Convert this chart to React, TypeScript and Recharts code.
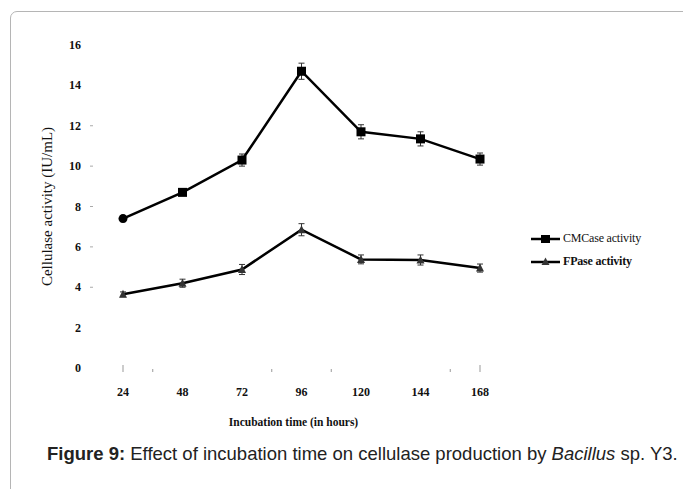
import React from 'react';
import { LineChart, Line, XAxis, YAxis, ErrorBar, Legend } from 'recharts';

// Incubation times (hours) and measured activities (IU/mL) with their error
const hours = [24, 48, 72, 96, 120, 144, 168];
const cmcaseActivity = [7.4, 8.7, 10.3, 14.7, 11.7, 11.35, 10.35];
const cmcaseError = [0.15, 0.15, 0.3, 0.4, 0.35, 0.35, 0.3];
const fpaseActivity = [3.65, 4.2, 4.88, 6.85, 5.38, 5.35, 4.95];
const fpaseError = [0.12, 0.2, 0.25, 0.3, 0.22, 0.25, 0.2];

// Axis ticks
const yTicks = [0, 2, 4, 6, 8, 10, 12, 14, 16];
const yDashTicks = [4, 6, 8, 10, 12];
const edgeMarks = [24, 168];
const minorMarks = [36, 84, 108, 156];

const seriesNames = { cmcase: 'CMCase activity', fpase: 'FPase activity' };

const data = hours.map((h, i) => ({
  hour: h,
  cmcase: cmcaseActivity[i],
  cmcaseErr: cmcaseError[i],
  fpase: fpaseActivity[i],
  fpaseErr: fpaseError[i],
}));

const xTicks = [...hours, ...minorMarks].sort((a, b) => a - b);

const serif = '"Liberation Serif", "Times New Roman", serif';
const sans = '"Liberation Sans", Arial, sans-serif';

const YTick = (props: any) => {
  const { x, y, payload } = props;
  return (
    <g>
      <text x={x} y={y} dy={4} textAnchor="end" fontFamily={serif} fontWeight={700} fontSize={12} fill="#111">
        {payload.value}
      </text>
      {yDashTicks.includes(payload.value) && (
        <line x1={x + 9} x2={x + 12} y1={y} y2={y} stroke="#aaa" strokeWidth={1} />
      )}
    </g>
  );
};

const XTick = (props: any) => {
  const { x, y, payload } = props;
  const v = payload.value;
  const isEdge = edgeMarks.includes(v);
  const isMinor = minorMarks.includes(v);
  return (
    <g>
      {(isEdge || isMinor) && (
        <line x1={x} x2={x} y1={y - (isEdge ? 23 : 19)} y2={y - 16} stroke="#999" strokeWidth={1} />
      )}
      {hours.includes(v) && (
        <text x={x} y={y} dy={8} textAnchor="middle" fontFamily={serif} fontWeight={700} fontSize={12} fill="#111">
          {v}
        </text>
      )}
    </g>
  );
};

const SquareDot = (props: any) => {
  const { cx, cy, index } = props;
  if (cx == null || cy == null) return null;
  if (index === 0) {
    return <circle key={`c-${index}`} cx={cx} cy={cy} r={4.5} fill="#000" />;
  }
  return <rect key={`c-${index}`} x={cx - 4.5} y={cy - 4.5} width={9} height={9} fill="#000" />;
};

const TriangleDot = (props: any) => {
  const { cx, cy, index } = props;
  if (cx == null || cy == null) return null;
  return (
    <path
      key={`f-${index}`}
      d={`M${cx},${cy - 4.5} L${cx + 4},${cy + 3.5} L${cx - 4},${cy + 3.5} Z`}
      fill="#333"
    />
  );
};

const LegendContent = (props: any) => {
  const { payload } = props;
  return (
    <div>
      {payload.map((entry: any) => {
        const isCm = entry.dataKey === 'cmcase';
        return (
          <div key={entry.dataKey} style={{ display: 'flex', alignItems: 'center', height: 23 }}>
            <svg width={30} height={12} style={{ display: 'block' }}>
              <line x1={0} x2={29} y1={6} y2={6} stroke="#000" strokeWidth={2.5} />
              {isCm ? (
                <rect x={10} y={2} width={9} height={8} fill="#000" />
              ) : (
                <path d="M14.5,1.5 L18.5,9 L10.5,9 Z" fill="#333" />
              )}
            </svg>
            <span
              style={{
                fontFamily: serif,
                fontSize: 12,
                fontWeight: isCm ? 400 : 700,
                color: '#111',
                marginLeft: 2,
                letterSpacing: -0.2,
                whiteSpace: 'nowrap',
              }}
            >
              {entry.value}
            </span>
          </div>
        );
      })}
    </div>
  );
};

export default function App() {
  return (
    <div style={{ position: 'absolute', left: 0, top: 0, width: 683, height: 489, overflow: 'hidden', background: '#fff' }}>
      <div
        style={{
          position: 'absolute',
          left: 10,
          top: 11,
          width: 700,
          height: 500,
          border: '1px solid #b5b5b5',
          borderRadius: 7,
          boxSizing: 'border-box',
        }}
      />
      <div style={{ position: 'absolute', left: 0, top: 0 }}>
        <LineChart width={683} height={440} data={data} margin={{ top: 45, right: 203, left: 10, bottom: 12 }}>
          <XAxis
            dataKey="hour"
            type="number"
            domain={[24, 168]}
            ticks={xTicks}
            interval={0}
            axisLine={false}
            tickLine={false}
            tickSize={0}
            tickMargin={20}
            height={60}
            tick={<XTick />}
            label={{
              value: 'Incubation time (in hours)',
              position: 'insideBottom',
              offset: 2,
              dx: -8,
              style: { fontFamily: serif, fontWeight: 700, fontSize: 11.5, fill: '#111' },
            }}
          />
          <YAxis
            type="number"
            domain={[0, 16]}
            ticks={yTicks}
            interval={0}
            width={113}
            axisLine={false}
            tickLine={false}
            tickSize={0}
            tickMargin={42}
            tick={<YTick />}
            label={{
              value: 'Cellulase activity (IU/mL)',
              angle: -90,
              position: 'insideLeft',
              offset: 37,
              style: { textAnchor: 'middle', fontFamily: serif, fontSize: 15, fill: '#111' },
            }}
          />
          <Legend
            layout="horizontal"
            verticalAlign="middle"
            align="center"
            wrapperStyle={{ left: 531, top: 227, width: 145 }}
            content={<LegendContent />}
          />
          <Line
            dataKey="cmcase"
            name={seriesNames.cmcase}
            stroke="#000"
            strokeWidth={2.5}
            dot={<SquareDot />}
            activeDot={false}
            isAnimationActive={false}
          >
            <ErrorBar dataKey="cmcaseErr" width={3} strokeWidth={1} stroke="#333" direction="y" />
          </Line>
          <Line
            dataKey="fpase"
            name={seriesNames.fpase}
            stroke="#000"
            strokeWidth={2.5}
            dot={<TriangleDot />}
            activeDot={false}
            isAnimationActive={false}
          >
            <ErrorBar dataKey="fpaseErr" width={3} strokeWidth={1} stroke="#333" direction="y" />
          </Line>
        </LineChart>
      </div>
      <div
        style={{
          position: 'absolute',
          left: 47,
          top: 443,
          fontFamily: sans,
          fontSize: 18.5,
          color: '#222',
          whiteSpace: 'nowrap',
        }}
      >
        <b>Figure 9:</b> Effect of incubation time on cellulase production by <i>Bacillus</i> sp. Y3.
      </div>
    </div>
  );
}
